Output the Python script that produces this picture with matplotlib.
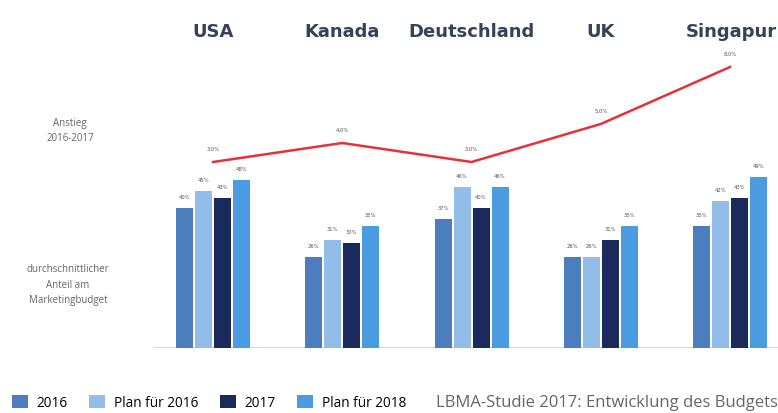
import matplotlib.pyplot as plt
from matplotlib.patches import Patch
from matplotlib.transforms import blended_transform_factory

# Daten
laender = ["USA", "Kanada", "Deutschland", "UK", "Singapur"]
serien = ["2016", "Plan für 2016", "2017", "Plan für 2018"]
werte_2016 = [40, 26, 37, 26, 35]
werte_plan_2016 = [45, 31, 46, 26, 42]
werte_2017 = [43, 30, 40, 31, 43]
werte_plan_2018 = [48, 35, 46, 35, 49]
anstieg = [3.0, 4.0, 3.0, 5.0, 8.0]
anstieg_labels = ["3,0%", "4,0%", "3,0%", "5,0%", "8,0%"]

farben = ["#4c7dbd", "#92bde8", "#1b2a5c", "#4b9be0"]
rot = "#e8303a"
grau = "#666666"

W, H = 778, 413
fig = plt.figure(figsize=(W / 100, H / 100), dpi=100)
fig.patch.set_facecolor("white")

# Achse: Basislinie bei y=348px, Gruppenmitte USA bei x=213px, Abstand 129.25px
basis_px = 348
ax = fig.add_axes([0, (H - basis_px) / H, 1, basis_px / H])
px_gruppe = 129.25
x0 = 213
ax.set_xlim(-x0 / px_gruppe, (W - x0) / px_gruppe)
ax.set_ylim(0, basis_px / 3.5)
ax.axis("off")

breite = 17 / px_gruppe
schritt = 19 / px_gruppe
alle = [werte_2016, werte_plan_2016, werte_2017, werte_plan_2018]
for k, (werte, farbe) in enumerate(zip(alle, farben)):
    xs = [i + (k - 1.5) * schritt for i in range(len(laender))]
    ax.bar(xs, werte, width=breite, color=farbe, zorder=2)
    for x, v in zip(xs, werte):
        ax.text(x, v + 2.2, f"{v}%", ha="center", va="bottom",
                fontsize=3.8, color="#555555")

ax.axhline(0, xmin=155 / W, xmax=1, color="#d0d0d0", lw=1.2, zorder=1)

# Linie Anstieg 2016-2017
ax2 = fig.add_axes(ax.get_position(), sharex=ax)
ax2.set_ylim(3 - 186 / 19, 3 + 162 / 19)
ax2.axis("off")
ax2.patch.set_alpha(0)
ax2.plot(range(len(laender)), anstieg, color=rot, lw=1.8, zorder=3)
for i, (v, lab) in enumerate(zip(anstieg, anstieg_labels)):
    ax2.text(i, v + 0.55, lab, ha="center", va="bottom", fontsize=3.8, color="#555555")

# Ländertitel
trans = blended_transform_factory(ax.transData, fig.transFigure)
for i, land in enumerate(laender):
    if i == len(laender) - 1:
        fig.text(0.999, 1 - 32 / H, land, ha="right", va="center",
                 fontsize=13, fontweight="bold", color="#34425a")
    else:
        ax.text(i, 1 - 32 / H, land, transform=trans, ha="center", va="center",
                fontsize=13, fontweight="bold", color="#34425a")

# Beschriftungen links
fig.text(70 / W, 1 - 131 / H, "Anstieg\n2016-2017", ha="center", va="center",
         fontsize=7, color=grau, family="Open Sans", linespacing=1.5)
fig.text(68 / W, 1 - 285 / H, "durchschnittlicher\nAnteil am\nMarketingbudget",
         ha="center", va="center", fontsize=7, color=grau, family="Open Sans",
         linespacing=1.5)

# Legende
handles = [Patch(facecolor=f, label=s) for f, s in zip(farben, serien)]
fig.legend(handles=handles, loc="center left", bbox_to_anchor=(0.008, 1 - 403 / H),
           ncol=4, frameon=False, handlelength=1.2, handleheight=1.1,
           handletextpad=0.6, columnspacing=1.6, borderaxespad=0,
           prop={"family": "Open Sans", "size": 9.8})

fig.text(1.0, 1 - 403 / H, "LBMA-Studie 2017: Entwicklung des Budgets",
         ha="right", va="center", fontsize=12, color=grau, family="Open Sans")

fig.savefig("out.png", dpi=100)
